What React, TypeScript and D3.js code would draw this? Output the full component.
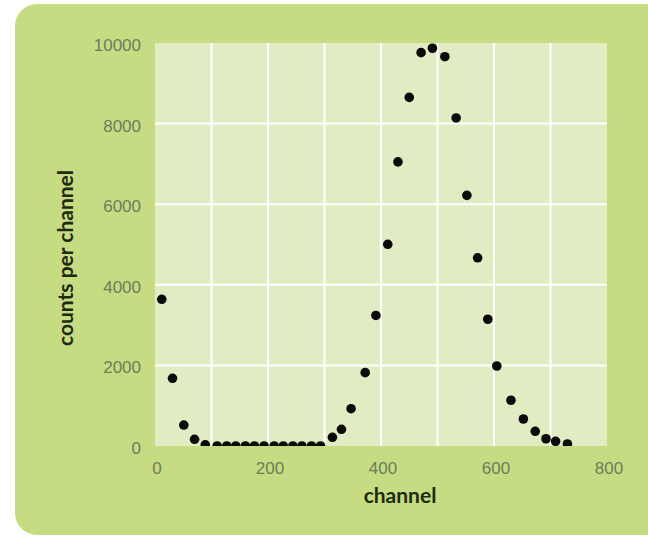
import React from 'react';
import * as d3 from 'd3';

// values
const channels = [12, 31, 51, 70, 89, 110, 127, 143, 160, 176, 193, 211, 227, 244, 260, 277, 293,
  314, 330, 347, 372, 391, 412, 430, 450, 471, 491, 513, 533, 552, 571, 589, 605, 630, 652, 673, 692, 709, 730];
const counts = [3640, 1680, 520, 166, 30, 0, 0, 0, 0, 0, 0, 0, 0, 0, 0, 0, 0,
  216, 414, 925, 1820, 3240, 5005, 7050, 8650, 9760, 9870, 9660, 8140, 6220, 4670, 3145, 1985, 1135, 670, 365, 180, 115, 50];
const xTicks = [0, 200, 400, 600, 800];
const yTicks = [0, 2000, 4000, 6000, 8000, 10000];
const xGrid = [100, 200, 300, 400, 500, 600, 700];
const yGrid = [2000, 4000, 6000, 8000];

const width = 648;
const height = 538;

export default function App() {
  const x = d3.scaleLinear().domain([0, 800]).range([155, 607]);
  const y = d3.scaleLinear().domain([0, 10000]).range([446, 43]);

  const points = channels.map((c, i) => ({ c, v: counts[i] }));
  const tickColor = '#6f7b5b';

  return (
    <svg width={width} height={height} style={{ position: 'absolute', left: 0, top: 0 }}>
      <defs>
        <clipPath id="plotClip">
          <rect x={x(0)} y={y(10000)} width={x(800) - x(0)} height={y(0) - y(10000)} />
        </clipPath>
      </defs>
      <rect x={0} y={0} width={width} height={height} fill="#ffffff" />
      {/* green card */}
      <rect x={15} y={4} width={680} height={531} rx={22} fill="#c5dc82" />
      {/* plot background */}
      <rect x={x(0)} y={y(10000)} width={x(800) - x(0)} height={y(0) - y(10000)} fill="#e1ecc3" />
      {xGrid.map(t => (
        <line key={'gx' + t} x1={x(t)} x2={x(t)} y1={y(10000)} y2={y(0)} stroke="#ffffff" strokeWidth={2} />
      ))}
      {yGrid.map(t => (
        <line key={'gy' + t} x1={x(0)} x2={x(800)} y1={y(t)} y2={y(t)} stroke="#ffffff" strokeWidth={2} />
      ))}
      <g clipPath="url(#plotClip)">
        {points.map((d, i) => (
          <circle key={i} cx={x(d.c)} cy={y(d.v)} r={4.8} fill="#0a0a0a" />
        ))}
      </g>
      <g fontFamily="'Liberation Sans', Arial, sans-serif" fontSize={17} fill={tickColor}>
        {xTicks.map(t => (
          <text key={'xt' + t} x={x(t) + 2} y={474} textAnchor="middle">{t}</text>
        ))}
        {yTicks.map(t => (
          <text key={'yt' + t} x={141} y={y(t) + 2} dy="0.35em" textAnchor="end">{t}</text>
        ))}
      </g>
      <text x={400} y={503} textAnchor="middle" fontFamily="Lato, sans-serif" fontWeight="bold"
        fontSize={21} fill="#1f2a12">channel</text>
      <text transform={`translate(73,258) rotate(-90)`} textAnchor="middle" fontFamily="Lato, sans-serif"
        fontWeight="bold" fontSize={21} fill="#1f2a12">counts per channel</text>
    </svg>
  );
}
